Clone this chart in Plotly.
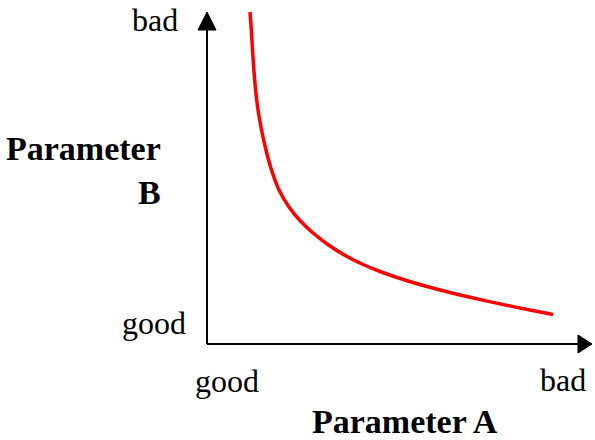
import plotly.graph_objects as go

# Curve data (trade-off curve), in axis units (0..10 on both axes)
curve_x = [1.117, 1.151, 1.182, 1.218, 1.262, 1.325, 1.416, 1.532, 1.675, 1.870,
           2.130, 2.416, 2.753, 3.195, 3.636, 4.052, 4.494, 5.221, 6.052, 6.831,
           7.610, 8.390, 8.987]
curve_y = [10.000, 9.458, 8.855, 8.253, 7.651, 7.048, 6.446, 5.843, 5.241, 4.639,
           4.127, 3.720, 3.343, 2.952, 2.636, 2.395, 2.184, 1.898, 1.627, 1.410,
           1.208, 1.024, 0.886]

x_labels = ["good", "bad"]
y_labels = ["good", "bad"]
x_title = "Parameter A"
y_title = "Parameter<br>B"

W, H = 595, 440
OX, OY = 207, 344      # pixel position of the origin
SX, SY = 38.5, 33.2    # pixels per axis unit


def px2x(px):
    return (px - OX) / SX


def py2y(py):
    return (OY - py) / SY


fig = go.Figure()
fig.add_trace(go.Scatter(
    x=curve_x, y=curve_y, mode="lines",
    line=dict(color="#ff0000", width=3.5, shape="spline", smoothing=0.8),
    cliponaxis=False, hoverinfo="skip", showlegend=False,
))

font = "Liberation Serif, Times New Roman, serif"
shapes = []
# axis lines
shapes.append(dict(type="line", xref="x", yref="y", x0=0, y0=0, x1=0, y1=py2y(30),
                   line=dict(color="black", width=2)))
shapes.append(dict(type="line", xref="x", yref="y", x0=0, y0=0, x1=px2x(579), y1=0,
                   line=dict(color="black", width=2)))
# arrowheads
ax_tip = py2y(12)
ax_base = py2y(30)
hw = 9 / SX
shapes.append(dict(type="path", xref="x", yref="y",
                   path=f"M {-hw} {ax_base} L {hw} {ax_base} L 0 {ax_tip} Z",
                   fillcolor="black", line=dict(color="black", width=1)))
bx_tip = px2x(592)
bx_base = px2x(578)
hh = 9 / SY
shapes.append(dict(type="path", xref="x", yref="y",
                   path=f"M {bx_base} {-hh} L {bx_base} {hh} L {bx_tip} 0 Z",
                   fillcolor="black", line=dict(color="black", width=1)))

ann = []


def add_text(text, px, py, size, bold=False, xanchor="center", align="center"):
    ann.append(dict(text=f"<b>{text}</b>" if bold else text, x=px2x(px), y=py2y(py),
                    xref="x", yref="y", showarrow=False, xanchor=xanchor, yanchor="middle",
                    align=align, font=dict(family=font, size=size, color="black")))


add_text(y_labels[1], 155, 20, 32)
add_text(y_labels[0], 154, 323, 32)
add_text(x_labels[0], 226.5, 381, 32)
add_text(x_labels[1], 563, 380, 32)
add_text(y_title, 163, 170, 34, bold=True, xanchor="right", align="right")
add_text(x_title, 405, 421, 34, bold=True)

fig.update_layout(
    width=W, height=H,
    margin=dict(l=0, r=0, t=0, b=0),
    paper_bgcolor="white", plot_bgcolor="white",
    xaxis=dict(range=[px2x(0), px2x(W)], visible=False, fixedrange=True),
    yaxis=dict(range=[py2y(H), py2y(0)], visible=False, fixedrange=True),
    shapes=shapes, annotations=ann, showlegend=False,
)
fig.write_html("out.html", config={"displayModeBar": False},
               post_script="document.body.style.margin='0px';")
